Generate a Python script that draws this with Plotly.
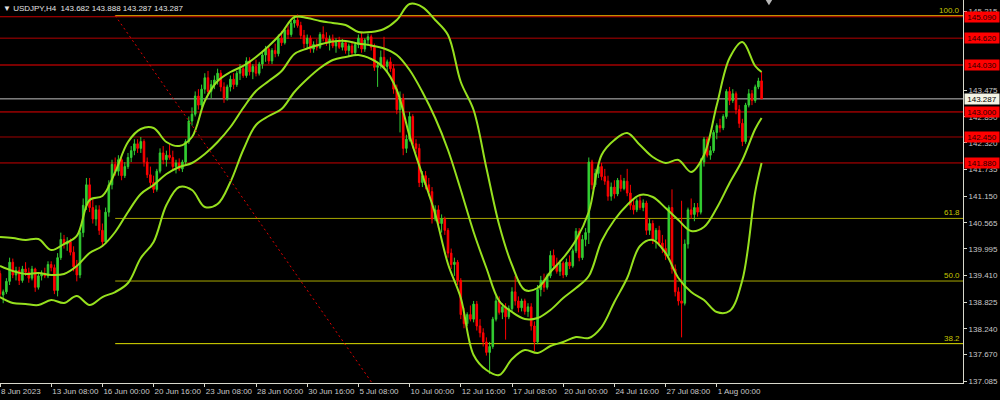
import plotly.graph_objects as go

FONT = "Liberation Sans Narrow, Liberation Sans, Arial, sans-serif"

title_text = "▼ USDJPY,H4  143.682 143.888 143.287 143.287"

opens = [
    139.45, 138.98, 139.05, 139.28, 139.70, 139.42, 139.52, 139.30, 139.55, 139.48,
    139.35, 139.55, 139.15, 139.40, 139.45, 139.40, 139.65, 139.58, 139.08, 139.80,
    140.20, 140.10, 140.15, 139.92, 139.60, 139.42, 140.35, 140.95, 141.40, 140.90,
    140.65, 140.85, 140.40, 140.15, 140.80, 141.40, 141.85, 141.70, 141.95, 141.60,
    141.80, 142.00, 142.15, 142.30, 142.20, 142.35, 141.90, 141.62, 141.45, 141.30,
    141.70, 142.10, 141.95, 142.05, 142.00, 141.80, 141.88, 141.75, 141.90, 142.35,
    142.80, 142.95, 143.35, 143.15, 143.50, 143.75, 143.45, 143.60, 143.70, 143.85,
    143.55, 143.30, 143.55, 143.72, 143.60, 143.85, 143.95, 143.80, 144.12, 143.88,
    144.00, 143.85, 144.05, 144.25, 144.38, 144.12, 144.35, 144.28, 144.62, 144.52,
    144.80, 144.70, 144.95, 145.02, 144.90, 144.68, 144.50, 144.62, 144.38, 144.48,
    144.42, 144.70, 144.62, 144.52, 144.60, 144.45, 144.55, 144.42, 144.52, 144.35,
    144.45, 144.30, 144.48, 144.62, 144.38, 144.58, 144.65, 144.42, 143.98, 144.02,
    144.20, 144.00, 144.10, 143.95, 143.50, 143.05, 143.30, 142.20, 142.40, 142.90,
    142.30, 142.20, 141.45, 141.60, 141.40, 141.25, 140.65, 140.85, 140.55, 140.65,
    140.40, 139.90, 139.65, 139.70, 139.30, 138.55, 138.35, 138.55, 138.45, 138.78,
    138.30, 138.15, 137.95, 137.72, 137.85, 138.45, 138.85, 138.60, 138.72, 138.50,
    138.68, 139.05, 138.85, 138.70, 138.85, 138.62, 138.72, 138.30, 137.95, 139.10,
    139.30, 139.15, 139.40, 139.85, 139.62, 139.50, 139.68, 139.42, 139.70, 139.62,
    139.95, 140.38, 139.80, 140.20, 140.35, 141.90, 141.40, 141.65, 141.80, 141.58,
    141.48, 141.15, 141.35, 141.20, 141.50, 141.32, 141.48, 141.22, 140.95, 140.85,
    141.05, 140.90, 141.00, 140.40, 140.55, 140.20, 140.40, 140.12, 140.00, 139.85,
    140.90, 139.55, 139.05, 138.85, 138.80, 140.10, 140.85, 140.75, 140.90, 140.80,
    141.90, 142.40, 142.05, 142.15, 142.55, 142.70, 142.65, 142.90, 143.45, 143.25,
    143.40, 143.05, 142.75, 142.35, 143.15, 143.40, 143.25, 143.55, 143.682,
]

highs = [
    139.52, 139.10, 139.35, 139.80, 139.78, 139.60, 139.60, 139.62, 139.70, 139.58,
    139.62, 139.58, 139.45, 139.52, 139.58, 139.72, 139.72, 139.65, 139.90, 140.35,
    140.30, 140.25, 140.22, 140.05, 139.75, 140.45, 141.10, 141.55, 141.55, 141.10,
    140.95, 140.95, 140.55, 140.90, 141.50, 141.95, 142.00, 142.05, 142.00, 141.90,
    142.10, 142.25, 142.40, 142.40, 142.45, 142.40, 142.00, 141.80, 141.60, 141.75,
    142.20, 142.25, 142.15, 142.30, 142.15, 141.95, 141.98, 141.95, 142.40, 142.90,
    143.10, 143.45, 143.50, 143.60, 143.85, 143.90, 143.70, 143.80, 143.95, 143.92,
    143.65, 143.60, 143.80, 143.85, 143.90, 144.05, 144.00, 144.20, 144.20, 144.05,
    144.15, 144.10, 144.30, 144.45, 144.45, 144.40, 144.50, 144.70, 144.78, 144.85,
    144.90, 145.00, 145.08, 145.14, 144.98, 144.80, 144.70, 144.68, 144.55, 144.60,
    144.75, 144.88, 144.75, 144.68, 144.70, 144.62, 144.65, 144.60, 144.58, 144.50,
    144.55, 144.52, 144.70, 144.75, 144.62, 144.72, 144.70, 144.50, 144.10, 144.35,
    144.65, 144.15, 144.20, 144.05, 143.60, 143.45, 143.40, 142.50, 143.00, 142.95,
    142.40, 142.30, 141.70, 141.70, 141.55, 141.35, 140.95, 140.95, 140.75, 140.70,
    140.45, 140.00, 139.80, 139.75, 139.35, 138.70, 138.60, 138.75, 138.85, 138.85,
    138.45, 138.25, 138.05, 137.95, 138.50, 138.95, 138.95, 138.80, 138.80, 138.75,
    139.15, 139.40, 138.95, 138.90, 138.90, 138.80, 138.80, 138.40, 139.20, 139.40,
    139.45, 139.45, 139.95, 139.98, 139.80, 139.75, 139.72, 139.78, 139.85, 140.00,
    140.45, 140.45, 140.30, 140.45, 142.00, 141.95, 141.75, 141.90, 141.88, 141.75,
    141.60, 141.45, 141.50, 141.55, 141.62, 141.55, 141.75, 141.40, 141.10, 141.10,
    141.15, 141.08, 141.05, 140.65, 140.62, 140.45, 140.50, 140.30, 140.20, 140.95,
    141.30, 139.65, 139.15, 141.05, 140.20, 140.90, 141.10, 141.00, 141.00, 141.98,
    142.45, 142.45, 142.25, 142.60, 142.75, 142.85, 142.95, 143.50, 143.55, 143.50,
    143.45, 143.15, 142.85, 143.20, 143.50, 143.48, 143.60, 143.75, 143.888,
]

lows = [
    138.92, 138.80, 139.00, 139.20, 139.35, 139.30, 139.20, 139.25, 139.40, 139.25,
    139.30, 139.05, 139.10, 139.30, 139.35, 139.35, 139.50, 139.00, 138.95, 139.75,
    140.00, 139.95, 139.85, 139.50, 139.28, 139.35, 140.25, 140.85, 140.80, 140.55,
    140.50, 140.30, 140.05, 140.10, 140.70, 141.30, 141.60, 141.60, 141.50, 141.55,
    141.75, 141.90, 142.05, 142.10, 142.10, 141.80, 141.55, 141.35, 141.22, 141.25,
    141.65, 141.85, 141.80, 141.95, 141.70, 141.65, 141.70, 141.68, 141.85, 142.30,
    142.70, 142.90, 143.05, 143.10, 143.40, 143.35, 143.30, 143.50, 143.60, 143.45,
    143.20, 143.25, 143.45, 143.50, 143.55, 143.70, 143.75, 143.75, 143.80, 143.72,
    143.78, 143.80, 143.95, 144.10, 144.05, 144.05, 144.20, 144.22, 144.45, 144.48,
    144.60, 144.65, 144.85, 144.85, 144.60, 144.40, 144.40, 144.30, 144.30, 144.35,
    144.38, 144.55, 144.45, 144.35, 144.40, 144.30, 144.38, 144.35, 144.28, 144.22,
    144.25, 144.25, 144.40, 144.30, 144.32, 144.45, 144.35, 143.90, 143.55, 143.95,
    143.95, 143.85, 143.88, 143.40, 142.95, 142.55, 142.05, 142.10, 142.35, 142.20,
    142.10, 141.35, 141.35, 141.30, 141.15, 140.55, 140.60, 140.45, 140.35, 140.30,
    139.80, 139.55, 139.40, 139.20, 138.45, 138.25, 138.30, 138.40, 138.38, 138.20,
    138.05, 137.85, 137.65, 137.25, 137.80, 138.40, 138.55, 138.45, 138.00, 138.45,
    138.60, 138.75, 138.60, 138.62, 138.55, 138.50, 138.20, 137.75, 137.90, 138.95,
    139.05, 139.10, 139.35, 139.55, 139.45, 139.40, 139.35, 139.38, 139.55, 139.58,
    139.90, 139.72, 139.75, 140.05, 140.10, 141.30, 141.35, 141.55, 141.50, 141.40,
    141.05, 141.05, 141.10, 141.15, 141.25, 141.28, 141.15, 140.85, 140.75, 140.80,
    140.85, 140.82, 140.30, 140.30, 140.10, 140.00, 140.05, 139.90, 139.75, 139.80,
    139.45, 138.95, 138.75, 138.05, 138.75, 140.00, 140.65, 140.60, 140.70, 140.75,
    141.80, 142.00, 141.95, 142.10, 142.40, 142.55, 142.60, 142.85, 143.15, 143.20,
    142.95, 142.65, 142.25, 142.30, 143.10, 143.15, 143.20, 143.50, 143.287,
]

closes = [
    139.00, 139.05, 139.28, 139.70, 139.42, 139.52, 139.30, 139.55, 139.48, 139.35,
    139.55, 139.15, 139.40, 139.45, 139.40, 139.65, 139.58, 139.08, 139.80, 140.20,
    140.10, 140.15, 139.92, 139.60, 139.42, 140.35, 140.95, 141.40, 140.90, 140.65,
    140.85, 140.40, 140.15, 140.80, 141.40, 141.85, 141.70, 141.95, 141.60, 141.80,
    142.00, 142.15, 142.30, 142.20, 142.35, 141.90, 141.62, 141.45, 141.30, 141.70,
    142.10, 141.95, 142.05, 142.00, 141.80, 141.88, 141.75, 141.90, 142.35, 142.80,
    142.95, 143.35, 143.15, 143.50, 143.75, 143.45, 143.60, 143.70, 143.85, 143.55,
    143.30, 143.55, 143.72, 143.60, 143.85, 143.95, 143.80, 144.12, 143.88, 144.00,
    143.85, 144.05, 144.25, 144.38, 144.12, 144.35, 144.28, 144.62, 144.52, 144.80,
    144.70, 144.95, 145.02, 144.90, 144.68, 144.50, 144.62, 144.38, 144.48, 144.42,
    144.70, 144.62, 144.52, 144.60, 144.45, 144.55, 144.42, 144.52, 144.35, 144.45,
    144.30, 144.48, 144.62, 144.38, 144.58, 144.65, 144.42, 143.98, 144.02, 144.20,
    144.00, 144.10, 143.95, 143.50, 143.05, 143.30, 142.20, 142.40, 142.90, 142.30,
    142.20, 141.45, 141.60, 141.40, 141.25, 140.65, 140.85, 140.55, 140.65, 140.40,
    139.90, 139.65, 139.70, 139.30, 138.55, 138.35, 138.55, 138.45, 138.78, 138.30,
    138.15, 137.95, 137.72, 137.85, 138.45, 138.85, 138.60, 138.72, 138.50, 138.68,
    139.05, 138.85, 138.70, 138.85, 138.62, 138.72, 138.30, 137.95, 139.10, 139.30,
    139.15, 139.40, 139.85, 139.62, 139.50, 139.68, 139.42, 139.70, 139.62, 139.95,
    140.38, 139.80, 140.20, 140.35, 141.90, 141.40, 141.65, 141.80, 141.58, 141.48,
    141.15, 141.35, 141.20, 141.50, 141.32, 141.48, 141.22, 140.95, 140.85, 141.05,
    140.90, 141.00, 140.40, 140.55, 140.20, 140.40, 140.12, 140.00, 139.85, 140.90,
    139.55, 139.05, 138.85, 138.80, 140.10, 140.85, 140.75, 140.90, 140.80, 141.90,
    142.40, 142.05, 142.15, 142.55, 142.70, 142.65, 142.90, 143.45, 143.25, 143.40,
    143.05, 142.75, 142.35, 143.15, 143.40, 143.25, 143.55, 143.68, 143.287,
]

band_bars = [
    0, 4, 8, 12, 16, 20, 24, 28, 32, 36, 40, 44, 48, 52, 56, 60, 64, 68, 72, 76,
    80, 84, 88, 92, 96, 100, 104, 108, 112, 116, 120, 124, 128, 132, 136, 140,
    144, 148, 152, 156, 160, 164, 168, 172, 176, 180, 184, 188, 192, 196, 200,
    204, 208, 212, 216, 220, 224, 228, 232, 236, 238,
]

bb_upper = [
    140.254, 140.232, 140.188, 140.210, 139.968, 140.100, 140.276, 141.066, 141.154, 141.681,
    142.340, 142.625, 142.647, 142.340, 142.252, 142.450, 143.240, 143.679, 143.877, 144.009,
    144.206, 144.448, 144.733, 145.085, 145.063, 144.997, 144.953, 144.909, 144.755, 144.755,
    144.821, 145.019, 145.370, 145.304, 145.019, 144.689, 143.657, 143.043, 141.769, 140.517,
    139.639, 139.090, 139.134, 139.485, 139.793, 140.188, 140.803, 142.054, 142.384, 142.537,
    142.274, 142.010, 141.879, 141.945, 141.681, 142.054, 143.152, 144.184, 144.536, 144.009,
    143.877,
]

bb_middle = [
    139.617, 139.507, 139.441, 139.463, 139.419, 139.441, 139.617, 139.902, 140.056, 140.364,
    140.803, 141.198, 141.396, 141.637, 141.791, 141.879, 142.076, 142.340, 142.669, 143.086,
    143.460, 143.679, 143.899, 144.272, 144.393, 144.481, 144.547, 144.558, 144.503, 144.459,
    144.393, 144.250, 143.921, 143.438, 142.867, 142.164, 141.286, 140.364, 139.573, 138.848,
    138.607, 138.453, 138.475, 138.651, 138.914, 139.134, 139.397, 140.166, 140.627, 140.956,
    141.176, 141.132, 140.891, 140.627, 140.385, 140.473, 140.891, 141.439, 141.945, 142.625,
    142.867,
]

bb_lower = [
    138.936, 138.804, 138.782, 138.761, 138.870, 138.804, 138.958, 138.761, 138.936, 139.046,
    139.244, 139.793, 140.144, 140.956, 141.352, 141.286, 140.913, 140.978, 141.461, 142.164,
    142.713, 142.911, 143.064, 143.438, 143.723, 143.965, 144.140, 144.206, 144.250, 144.162,
    143.965, 143.482, 142.472, 141.615, 140.759, 139.661, 138.914, 137.663, 137.333, 137.223,
    137.575, 137.772, 137.706, 137.860, 137.948, 138.058, 138.036, 138.277, 138.826, 139.353,
    140.056, 140.188, 139.902, 139.353, 139.046, 138.870, 138.607, 138.629, 139.309, 141.242,
    141.879,
]

date_tick_bars = [0, 16, 32, 48, 64, 80, 96, 112, 128, 144, 160, 176, 192, 208, 224]
date_tick_labels = [
    "8 Jun 2023", "13 Jun 08:00", "16 Jun 00:00", "20 Jun 16:00", "23 Jun 08:00",
    "28 Jun 00:00", "30 Jun 16:00", "5 Jul 08:00", "10 Jul 00:00", "12 Jul 16:00",
    "17 Jul 08:00", "20 Jul 00:00", "24 Jul 16:00", "27 Jul 08:00", "1 Aug 00:00",
]

price_ticks = [145.215, 143.475, 142.890, 142.320, 141.735, 141.150,
               140.565, 139.995, 139.410, 138.825, 138.240, 137.670, 137.085]

level_prices = [145.090, 144.620, 144.030, 143.000, 142.450, 141.880]
level_colors = ["#c80000", "#b40000", "#7a0000", "#e60000", "#a00000", "#c80000"]
level_widths = [1, 1, 2, 1, 1, 1]

bid_price = 143.287

fib_labels = ["100.0", "61.8", "50.0", "38.2"]
fib_prices = [145.115, 140.662, 139.287, 137.912]
fib_colors = ["#d8a400", "#a8a800", "#a8a800", "#e0e000"]
fib_start_bar = 36
fib_trend_bars = [36, 152]
fib_trend_prices = [145.115, 133.459]

shift_marker_bar = 240.3

X_MAX = 300.94
Y_RANGE = [137.048, 145.458]
AXIS_COLOR = "#d8d8cc"
TEXT_COLOR = "#c8c8c8"
BAND_COLOR = "#96e01e"
FS = 8

fig = go.Figure()

fig.add_trace(go.Candlestick(
    x=list(range(len(closes))), open=opens, high=highs, low=lows, close=closes,
    increasing=dict(line=dict(color="#32cd32", width=1), fillcolor="#32cd32"),
    decreasing=dict(line=dict(color="#ff0000", width=1), fillcolor="#ff0000"),
    whiskerwidth=0, showlegend=False, hoverinfo="skip",
))

for band in (bb_upper, bb_middle, bb_lower):
    fig.add_trace(go.Scatter(
        x=band_bars, y=band, mode="lines",
        line=dict(color=BAND_COLOR, width=2, shape="spline", smoothing=1.0),
        showlegend=False, hoverinfo="skip",
    ))

fig.add_trace(go.Scatter(
    x=fib_trend_bars, y=fib_trend_prices, mode="lines",
    line=dict(color="#e00000", width=1, dash="2px,3px"),
    showlegend=False, hoverinfo="skip",
))

shapes = []
annotations = []

for p, c, w in zip(level_prices, level_colors, level_widths):
    shapes.append(dict(type="line", xref="paper", x0=0, x1=1, yref="y", y0=p, y1=p,
                       line=dict(color=c, width=w), layer="below"))
    annotations.append(dict(
        x=1, xref="paper", y=p, yref="y", xanchor="left", yanchor="middle",
        xshift=1, text=f"{p:.3f}", showarrow=False, bgcolor="#ff0000",
        width=34, height=10, borderpad=0,
        font=dict(color="#2a0000", size=FS, family=FONT),
    ))

shapes.append(dict(type="line", xref="paper", x0=0, x1=1, yref="y", y0=bid_price, y1=bid_price,
                   line=dict(color="#c0c0c0", width=1), layer="below"))
annotations.append(dict(
    x=1, xref="paper", y=bid_price, yref="y", xanchor="left", yanchor="middle",
    xshift=1, text=f"{bid_price:.3f}", showarrow=False, bgcolor="#f4f4e4",
    width=34, height=10, borderpad=0,
    font=dict(color="#000000", size=FS, family=FONT),
))

for lab, p, c in zip(fib_labels, fib_prices, fib_colors):
    shapes.append(dict(type="line", xref="x", x0=fib_start_bar, x1=X_MAX, yref="y", y0=p, y1=p,
                       line=dict(color=c, width=1), layer="below"))
    annotations.append(dict(
        x=1, xref="paper", y=p, yref="y", xanchor="right", yanchor="bottom",
        xshift=-1, yshift=-1, text=lab, showarrow=False,
        font=dict(color="#c8c800", size=FS, family=FONT),
    ))

shapes.append(dict(
    type="path", xref="x", yref="paper",
    path=f"M {shift_marker_bar - 1.0},1 L {shift_marker_bar + 1.0},1 L {shift_marker_bar},0.986 Z",
    fillcolor="#b8b8b8", line=dict(width=0),
))

annotations.append(dict(
    x=0, xref="paper", y=1, yref="paper", xanchor="left", yanchor="top",
    xshift=1, yshift=-2, text=title_text, showarrow=False,
    font=dict(color="#e4e4e4", size=FS, family=FONT),
))

fig.update_layout(
    width=1000, height=400,
    margin=dict(l=0, r=37, t=0, b=17),
    paper_bgcolor="#000000", plot_bgcolor="#000000",
    shapes=shapes, annotations=annotations,
    showlegend=False,
    xaxis=dict(
        range=[0, X_MAX], showgrid=False, zeroline=False, showline=True,
        linecolor=AXIS_COLOR, linewidth=1, ticks="outside", ticklen=3, tickcolor=AXIS_COLOR,
        tickvals=date_tick_bars, ticktext=date_tick_labels, tickangle=0,
        ticklabelposition="outside right",
        tickfont=dict(color=TEXT_COLOR, size=FS, family=FONT),
        rangeslider=dict(visible=False), automargin=False, fixedrange=True,
    ),
    yaxis=dict(
        range=Y_RANGE, side="right", showgrid=False, zeroline=False, showline=True,
        linecolor=AXIS_COLOR, linewidth=1, ticks="outside", ticklen=3, tickcolor=AXIS_COLOR,
        tickvals=price_ticks, ticktext=[f"{v:.3f}" for v in price_ticks],
        tickfont=dict(color=TEXT_COLOR, size=FS, family=FONT),
        automargin=False, fixedrange=True,
    ),
)

fig.write_html(
    "out.html",
    config={"displayModeBar": False, "staticPlot": True},
    post_script="document.body.style.margin='0';document.body.style.background='#000';",
)
